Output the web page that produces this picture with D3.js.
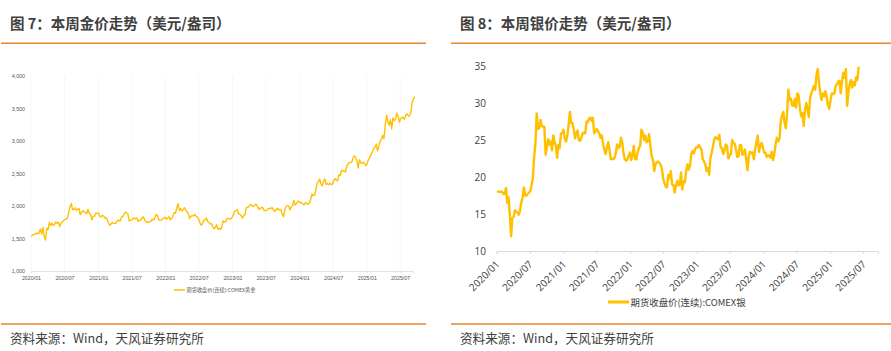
<!DOCTYPE html>
<html>
<head>
<meta charset="utf-8">
<script src="https://cdn.jsdelivr.net/npm/d3@7"></script>
<style>
  body { margin: 0; background: #fff; }
  svg { display: block; }
</style>
</head>
<body>
<svg id="chart" width="891" height="351"></svg>
<script>
// weekly (Friday) closes, one row per year
const years = [2020, 2021, 2022, 2023, 2024, 2025]

const goldWeekly = [
  [1530,1560,1560,1571,1587, 1573,1584,1648,1566, 1672,1530,1475,1654, 1637,1752,1698,1735,
   1700,1713,1756,1735,1751, 1683,1737,1753,1780, 1790,1801,1810,1897,1986, 2040,1944,1947,1973,
   1934,1948,1962,1866, 1900,1930,1906,1905,1879, 1951,1886,1872,1788, 1840,1840,1888,1883],
  [1895,1850,1830,1856,1850, 1814,1824,1784,1734, 1700,1727,1745,1733, 1729,1744,1780,1777,1768,
   1831,1838,1877,1905, 1892,1878,1769,1781, 1783,1810,1815,1802,1817, 1763,1778,1781,1818,
   1833,1791,1754,1751, 1758,1757,1768,1796,1783, 1816,1868,1852,1788, 1784,1783,1805,1811,1829],
  [1797,1817,1835,1786, 1808,1842,1900,1889, 1970,2035,1929,1958, 1923,1945,1974,1934,1911,
   1882,1808,1842,1851, 1850,1875,1840,1828, 1801,1742,1703,1727,1781, 1791,1816,1762,1749,
   1722,1728,1683,1650,1672, 1709,1640,1657,1640, 1675,1771,1754,1755, 1809,1810,1800,1804,1826],
  [1869,1921,1926,1945, 1876,1874,1850,1817, 1855,1867,1973,1983,1986, 2025,2015,1990,1999,
   2025,2019,1982,1946, 1969,1977,1971,1929,1929, 1932,1961,1964,1960, 1976,1946,1916,1940,
   1966,1943,1946,1945,1866, 1835,1941,1994,2006, 1999,1938,1984,2003, 2089,2014,2036,2069,2071],
  [2049,2051,2029,2018, 2054,2038,2024,2045, 2095,2185,2161,2165,2238, 2345,2374,2413,2347,
   2308,2375,2418,2335,2345, 2325,2349,2331,2336, 2397,2421,2399,2386, 2480,2471,2546,2546,2536,
   2524,2610,2646,2668, 2667,2676,2736,2770, 2749,2694,2585,2712,2665, 2657,2675,2645,2622],
  [2660,2715,2748,2790,2835, 2887,2900,2950,2848, 2914,3000,3021,3085, 3035,3245,3400,3298,
   3243,3330,3187,3357,3315, 3331,3430,3385,3287, 3342,3365,3358,3336, 3400,3420,3382,3390,3450,
   3600,3650,3680]
]

const silverWeekly = [
  [18.1,18.0,18.0,18.0,18.0, 17.7,17.7,18.5,16.5, 17.3,14.8,12.0,14.5, 14.6,15.5,15.3,15.2,
   14.9,15.5,16.6,17.2,18.6, 17.5,17.5,17.7,17.9, 18.1,18.9,19.8,22.7,24.4, 28.6,26.5,26.6,27.7,
   26.9,26.8,26.8,23.0, 24.0,25.1,24.4,24.8,23.6, 25.6,24.8,24.2,22.6, 24.3,23.9,25.9,25.9],
  [26.4,25.2,24.8,25.6,27.0, 28.8,27.3,27.3,26.5, 25.2,25.9,26.3,25.0, 24.9,25.3,25.9,26.0,25.9,
   27.5,27.4,27.9,28.0, 27.6,28.0,25.9,26.2, 26.5,26.2,25.9,25.3,25.6, 24.4,23.7,23.1,24.0,
   24.7,23.7,22.4,22.5, 22.4,22.6,23.3,24.4,23.9, 24.1,25.3,24.7,23.2, 22.4,22.2,22.4,22.9,23.3],
  [22.3,22.9,24.2,22.4, 22.4,23.3,23.9,24.2, 26.4,26.0,25.0,25.6, 24.7,24.8,25.8,24.2,22.8,
   22.3,20.8,21.7,22.0, 22.1,21.9,21.7,21.1, 19.8,19.2,18.7,18.6,20.3, 19.8,20.8,19.0,18.9,
   17.9,18.8,19.5,18.9,19.0, 20.6,18.3,19.4,19.3, 20.8,21.7,21.0,21.5, 23.1,23.5,23.2,23.8,24.0],
  [24.0,24.3,24.0,23.7, 22.4,22.1,21.7,20.8, 21.2,20.3,22.6,23.3,24.2, 25.1,25.4,25.2,25.1,
   25.7,24.0,23.9,23.1, 23.6,24.4,24.2,22.5,22.9, 23.1,25.0,24.6,24.5, 23.7,22.7,22.8,24.3,
   24.3,23.0,23.3,23.7,22.4, 20.9,22.8,23.4,23.2, 23.3,22.4,23.8,24.7, 25.6,23.4,24.2,24.6,24.1],
  [23.3,23.3,22.7,22.9, 22.9,22.6,23.4,22.3, 23.1,24.4,25.3,24.8,25.1, 27.4,28.3,28.8,27.4,
   26.6,28.6,31.8,30.4,30.6, 29.7,29.6,30.5,29.4, 31.3,31.0,29.3,28.2, 28.6,26.9,29.0,30.0,29.2,
   28.1,30.7,31.3,31.8, 32.3,31.8,33.8,34.6, 32.7,31.3,30.4,31.3,30.9, 31.6,30.8,29.7,29.2],
  [30.4,31.3,31.2,31.3,32.3, 32.5,32.9,33.0,31.3, 32.9,34.1,33.4,34.6, 29.6,31.4,32.6,33.1,
   32.1,32.8,32.4,33.5,33.1, 34.9]
]

const goldTicks = [1000, 1500, 2000, 2500, 3000, 3500, 4000]
const silverTicks = [10, 15, 20, 25, 30, 35]
const dateTicks = ["2020/01", "2020/07", "2021/01", "2021/07", "2022/01", "2022/07",
                   "2023/01", "2023/07", "2024/01", "2024/07", "2025/01", "2025/07"]

const titles = ["图 7：本周金价走势（美元/盎司）", "图 8：本周银价走势（美元/盎司）"]
const legends = ["期货收盘价(连续):COMEX黄金", "期货收盘价(连续):COMEX银"]
const sourceText = "资料来源：Wind，天风证券研究所"

const parseTick = d3.timeParse("%Y/%m")
const fmtTick = d3.timeFormat("%Y/%m")
const orange = "#E8832E"
const gold = "#FFC000"
const cjk = "'Noto Sans CJK SC', 'Noto Sans', sans-serif"

const toSeries = (rows) => {
  let out = []
  rows.forEach((vals, i) => {
    let fridays = d3.timeFriday.range(new Date(years[i], 0, 1), new Date(years[i] + 1, 0, 1))
    vals.forEach((v, j) => out.push({ date: fridays[j], value: v }))
  })
  return out
}

let goldData = toSeries(goldWeekly)
let silverData = toSeries(silverWeekly)
let tickDates = dateTicks.map(parseTick)

let svg = d3.select("#chart")

// frame: titles, rules, sources
const frame = (x0, x1, ti) => {
  svg.append("text").attr("x", x0 + 9).attr("y", 28.5)
    .text(titles[ti])
    .attr("font-family", cjk).attr("font-size", 14.5).attr("font-weight", 600)
    .attr("fill", "#404040")
  svg.append("line").attr("x1", x0).attr("x2", x1).attr("y1", 43.3).attr("y2", 43.3)
    .attr("stroke", orange).attr("stroke-width", 1.4)
  svg.append("line").attr("x1", x0).attr("x2", x1).attr("y1", 324).attr("y2", 324)
    .attr("stroke", orange).attr("stroke-width", 1.4)
  svg.append("text").attr("x", x0 + 9).attr("y", 343)
    .text(sourceText)
    .attr("font-family", cjk).attr("font-size", 12.6)
    .attr("fill", "#404040")
}
frame(1, 426, 0)
frame(451, 891, 1)

// ---------- left: gold ----------
let xg = d3.scaleTime().range([31, 413]).domain([parseTick("2020/01"), new Date(2025, 8, 9)])
let yg = d3.scaleLinear().range([271, 76]).domain([1000, 4000])

let gL = svg.append("g")

gL.selectAll(".vgrid")
  .data(tickDates)
  .enter()
  .append("line")
  .attr("x1", (d) => { return xg(d) })
  .attr("x2", (d) => { return xg(d) })
  .attr("y1", yg(4000))
  .attr("y2", yg(1000))
  .attr("stroke", "#f7f7f7")

let axL = gL.append("g")
  .attr("transform", "translate(0," + yg(1000) + ")")
  .call(d3.axisBottom(xg).tickValues(tickDates).tickFormat(fmtTick).tickSize(2).tickPadding(3))
axL.select(".domain").attr("stroke", "#e2e2e2")
axL.selectAll(".tick line").attr("stroke", "#e2e2e2")
axL.selectAll("text")
  .attr("font-family", "'Liberation Sans', Arial, sans-serif")
  .attr("font-size", 5.3).attr("fill", "#555")

let ayL = gL.append("g")
  .attr("transform", "translate(31,0)")
  .call(d3.axisLeft(yg).tickValues(goldTicks).tickFormat(d3.format(",")).tickSize(0).tickPadding(6))
ayL.select(".domain").remove()
ayL.selectAll("text")
  .attr("font-family", "'Liberation Sans', Arial, sans-serif")
  .attr("font-size", 5.3).attr("fill", "#555")

gL.append("path")
  .datum(goldData)
  .attr("fill", "none")
  .attr("stroke", gold)
  .attr("stroke-width", 1.4)
  .attr("stroke-linejoin", "round")
  .attr("d", d3.line()
    .x((d) => { return xg(d.date) })
    .y((d) => { return yg(d.value) }))

gL.append("line").attr("x1", 174).attr("x2", 185).attr("y1", 290).attr("y2", 290)
  .attr("stroke", gold).attr("stroke-width", 1.5)
gL.append("text").attr("x", 186.5).attr("y", 292)
  .text(legends[0])
  .attr("font-family", cjk).attr("font-size", 5.2).attr("fill", "#555")

// ---------- right: silver ----------
let xs = d3.scaleTime().range([496.7, 878]).domain([parseTick("2020/01"), new Date(2025, 8, 20)])
let ys = d3.scaleLinear().range([251, 66]).domain([10, 35])

let gR = svg.append("g")

let axR = gR.append("g")
  .attr("transform", "translate(0," + ys(10) + ")")
  .call(d3.axisBottom(xs).tickValues(tickDates).tickFormat(fmtTick).tickSize(3))
axR.select(".domain").attr("stroke", "#d9d9d9")
axR.selectAll(".tick line").attr("stroke", "#d9d9d9")
axR.selectAll("text")
  .attr("font-family", "'Open Sans', 'Noto Sans', sans-serif")
  .attr("font-size", 10).attr("fill", "#404040")
  .attr("text-anchor", "end")
  .attr("dy", 0)
  .attr("y", 0)
  .attr("transform", "translate(3,14) rotate(-45)")

let ayR = gR.append("g")
  .attr("transform", "translate(486,0)")
  .call(d3.axisLeft(ys).tickValues(silverTicks).tickSize(0).tickPadding(0))
ayR.select(".domain").remove()
ayR.selectAll("text")
  .attr("font-family", "'Open Sans', 'Noto Sans', sans-serif")
  .attr("font-size", 10).attr("fill", "#404040")

gR.append("path")
  .datum(silverData)
  .attr("fill", "none")
  .attr("stroke", gold)
  .attr("stroke-width", 2.4)
  .attr("stroke-linejoin", "round")
  .attr("d", d3.line()
    .x((d) => { return xs(d.date) })
    .y((d) => { return ys(d.value) }))

gR.append("line").attr("x1", 608).attr("x2", 629).attr("y1", 302).attr("y2", 302)
  .attr("stroke", gold).attr("stroke-width", 3)
gR.append("text").attr("x", 630.5).attr("y", 305.5)
  .text(legends[1])
  .attr("font-family", cjk).attr("font-size", 9.4).attr("fill", "#404040")
</script>
</body>
</html>
